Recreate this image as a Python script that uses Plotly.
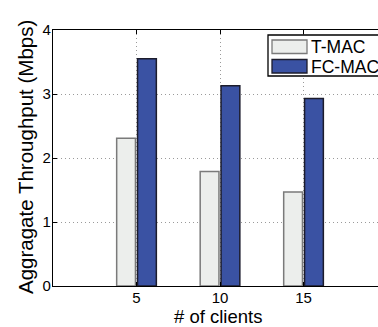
import plotly.graph_objects as go

clients = [5, 10, 15]
tmac = [2.31, 1.79, 1.47]
fcmac = [3.55, 3.13, 2.93]
series_names = ["T-MAC", "FC-MAC"]
y_ticks = [0, 1, 2, 3, 4]
x_title = "# of clients"
y_title = "Aggragate Throughput (Mbps)"

FONT = "Liberation Sans, Arial, Helvetica, sans-serif"
L, R, T, B = 53, 0, 30, 41
W, H = 378, 327
PW, PH = W - L - R, H - T - B

fills = ["#eceeec", "#3a52a3"]
edges = ["#7a7a7a", "#1c1c2c"]


def px(xp):
    return (xp - L) / PW


def py(yp):
    return 1 - (yp - T) / PH


fig = go.Figure()
for name, vals, fc, ec in zip(series_names, [tmac, fcmac], fills, edges):
    fig.add_trace(go.Bar(
        x=clients, y=vals, name=name,
        marker=dict(color=fc, line=dict(color=ec, width=1.5)),
    ))
fig.add_trace(go.Scatter(x=[None], y=[None], xaxis="x2", showlegend=False,
                         hoverinfo="skip"))

grid = dict(showgrid=True, gridcolor="#9a9a9a", griddash="1px,3px", gridwidth=1)

# manual legend (box, swatches, labels)
shapes = [dict(type="rect", xref="paper", yref="paper",
               x0=px(268), x1=px(395), y0=py(35), y1=py(76),
               line=dict(color="black", width=1.3), fillcolor="white", layer="above")]
annotations = []
for i, (name, fc, ec) in enumerate(zip(series_names, fills, edges)):
    top = 40 + i * 19.5
    shapes.append(dict(type="rect", xref="paper", yref="paper",
                       x0=px(272), x1=px(307), y0=py(top), y1=py(top + 13.5),
                       line=dict(color=ec, width=1.3), fillcolor=fc, layer="above"))
    annotations.append(dict(text=name, xref="paper", yref="paper",
                            x=px(309), y=py(top + 7), xanchor="left", yanchor="middle",
                            showarrow=False, font=dict(size=17.5, family=FONT)))

annotations += [
    dict(text=x_title, xref="paper", yref="paper",
         x=px(218), y=py(316.8), xanchor="center", yanchor="middle",
         showarrow=False, font=dict(size=18.5, family=FONT)),
    dict(text=y_title, xref="paper", yref="paper", textangle=-90,
         x=px(25), y=py(157), xanchor="center", yanchor="middle",
         showarrow=False, font=dict(size=20.5, family=FONT)),
]

fig.update_layout(
    width=W, height=H,
    margin=dict(l=L, r=R, t=T, b=B, autoexpand=False),
    paper_bgcolor="white", plot_bgcolor="white",
    barmode="group", bargap=0.5, bargroupgap=0.1,
    font=dict(family=FONT, color="black"),
    xaxis=dict(
        range=[0, 19.46], tickvals=clients, ticktext=[str(c) for c in clients],
        showline=True, linecolor="black", linewidth=1.2,
        ticks="inside", ticklen=4, tickcolor="black",
        zeroline=False, tickfont=dict(size=15, family=FONT),
        ticklabelstandoff=-2,
        **grid,
    ),
    xaxis2=dict(
        overlaying="x", side="top", matches="x", range=[0, 19.46],
        tickvals=clients, showticklabels=False,
        showline=True, linecolor="black", linewidth=1.2,
        ticks="inside", ticklen=4, tickcolor="black",
        showgrid=False, zeroline=False,
    ),
    yaxis=dict(
        range=[0, 4], tickvals=y_ticks,
        showline=True, linecolor="black", linewidth=1.2,
        ticks="inside", ticklen=4, tickcolor="black",
        zeroline=False, tickfont=dict(size=15, family=FONT),
        ticklabelstandoff=-2,
        **grid,
    ),
    showlegend=False,
    shapes=shapes,
    annotations=annotations,
)

fig.write_html("out.html", config={"displayModeBar": False},
               post_script="document.body.style.margin='0';document.body.style.overflow='hidden';")
